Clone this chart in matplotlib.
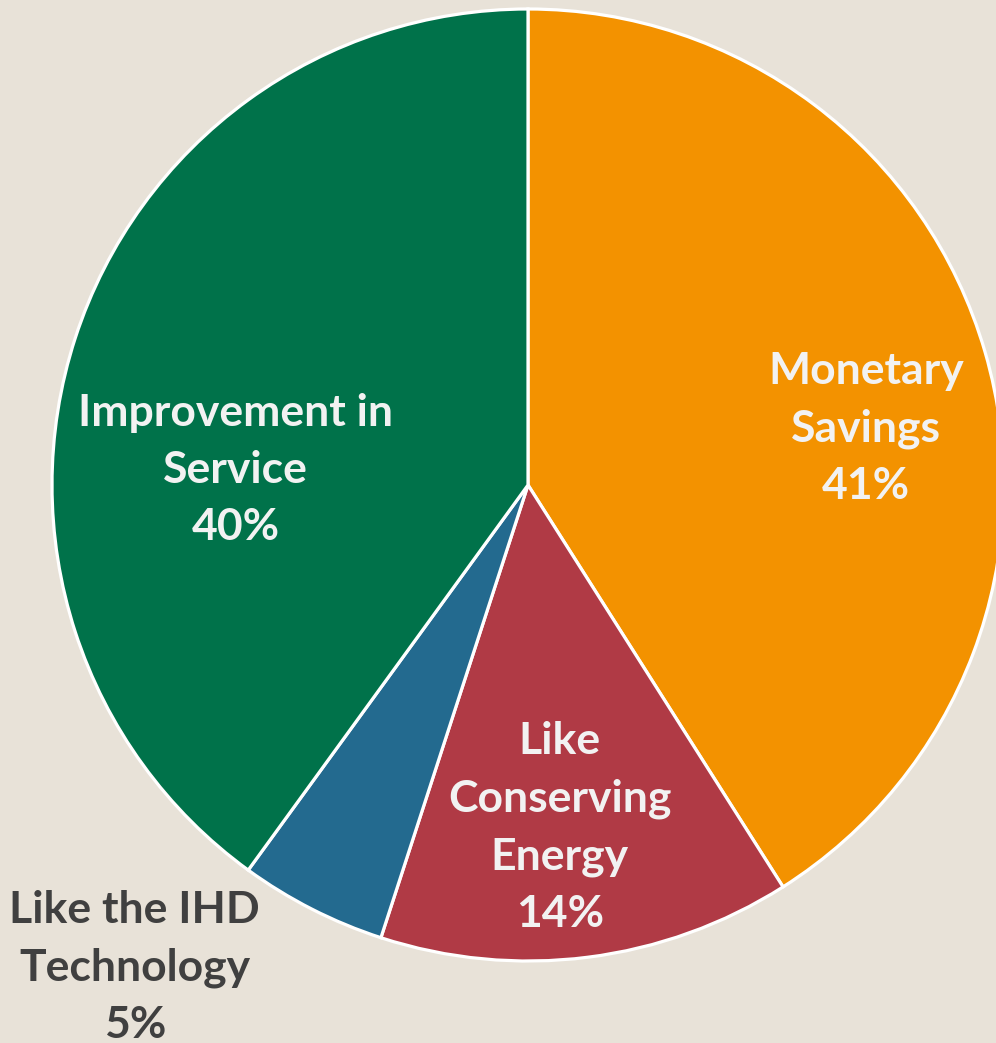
import matplotlib
matplotlib.use("Agg")
import matplotlib.pyplot as plt

# reasons for liking the in-home display, share of respondents (%)
labels = ["Monetary\nSavings", "Like\nConserving\nEnergy", "Like the IHD\nTechnology", "Improvement in\nService"]
shares = [41, 14, 5, 40]
colors = ["#F39200", "#B03A45", "#236A8F", "#00724A"]

# label anchor points in units of pie radius, and text colour per slice
label_xy = [(0.710, 0.118), (0.067, -0.720), (-0.826, -1.014), (-0.614, 0.031)]
label_colors = ["#F2F2F2", "#F2F2F2", "#404040", "#F2F2F2"]

BG = "#E8E2D8"

fig = plt.figure(figsize=(9.96, 10.43), dpi=100, facecolor=BG)
ax = fig.add_axes([0, 0, 1, 1])
ax.set_facecolor(BG)

ax.pie(shares, colors=colors, startangle=90, counterclock=False,
       radius=1.0, wedgeprops=dict(edgecolor="white", linewidth=2.3))

for lab, val, (x, y), c in zip(labels, shares, label_xy, label_colors):
    ax.text(x, y, f"{lab}\n{val}%", ha="center", va="center", color=c,
            fontsize=32, fontweight="bold", family=["Lato", "DejaVu Sans"],
            linespacing=1.52)

# pie centre sits at (528, 485) px with a 476 px radius
ax.set_xlim(-528 / 476, (996 - 528) / 476)
ax.set_ylim(-(1043 - 485) / 476, 485 / 476)
ax.set_aspect("auto")
ax.axis("off")

fig.savefig("out.png", dpi=100, facecolor=BG)
